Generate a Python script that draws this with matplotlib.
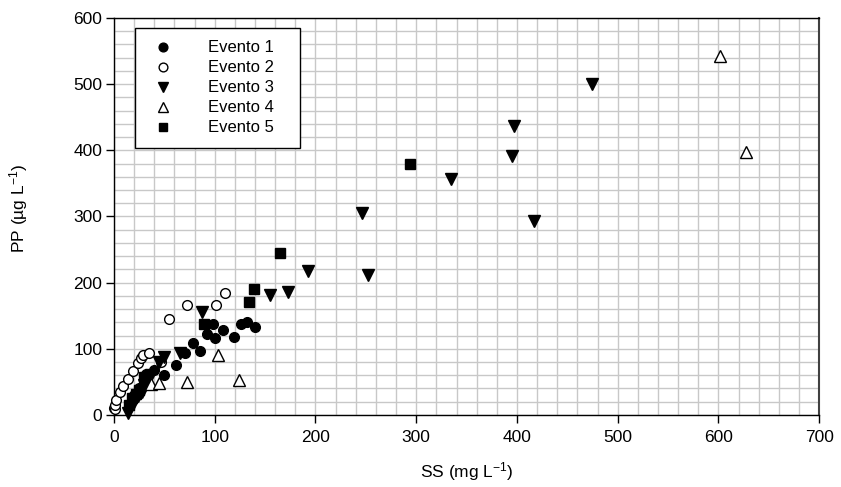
import matplotlib
matplotlib.use("Agg")
import matplotlib.pyplot as plt
from matplotlib.ticker import MultipleLocator

plt.rcParams['font.family'] = ['Liberation Sans', 'DejaVu Sans']
plt.rcParams['mathtext.default'] = 'regular'

### DATA ###
ev1_x = [20, 25, 32, 40, 50, 62, 70, 78, 85, 92, 98, 100, 108, 119, 126, 132, 140]
ev1_y = [30, 40, 62, 68, 60, 75, 93, 109, 97, 123, 137, 116, 129, 118, 138, 141, 133]

ev2_x = [0, 1, 1, 2, 6, 9, 14, 19, 24, 27, 29, 35, 47, 55, 72, 101, 110]
ev2_y = [10, 9, 15, 22, 35, 44, 54, 66, 78, 86, 91, 94, 80, 145, 166, 166, 185]

ev3_x = [14, 16, 20, 24, 28, 30, 33, 37, 45, 50, 65, 87, 155, 173, 193, 246, 252, 335, 395, 397, 417, 475]
ev3_y = [3, 10, 20, 28, 35, 45, 55, 60, 80, 87, 94, 156, 181, 186, 218, 306, 211, 356, 392, 437, 293, 501]

ev4_x = [37, 45, 72, 103, 124, 602, 627]
ev4_y = [46, 48, 50, 91, 53, 542, 398]

ev5_x = [15, 18, 22, 25, 30, 89, 134, 139, 165, 294]
ev5_y = [15, 25, 32, 38, 58, 138, 170, 190, 245, 380]

labels = ["Evento 1", "Evento 2", "Evento 3", "Evento 4", "Evento 5"]


### FIGURE ###
fig = plt.figure(figsize=(8.41, 4.87), dpi=100)
ax = fig.add_axes([0.1356, 0.148, 0.8384, 0.815])

ax.plot(ev1_x, ev1_y, 'o', color='black', markersize=7, label=labels[0], clip_on=False, zorder=3)
ax.plot(ev2_x, ev2_y, 'o', markerfacecolor='white', markeredgecolor='black', markersize=7,
        markeredgewidth=1, label=labels[1], clip_on=False, zorder=3)
ax.plot(ev3_x, ev3_y, 'v', color='black', markersize=8, label=labels[2], clip_on=False, zorder=3)
ax.plot(ev4_x, ev4_y, '^', markerfacecolor='white', markeredgecolor='black', markersize=8,
        markeredgewidth=1, label=labels[3], clip_on=False, zorder=3)
ax.plot(ev5_x, ev5_y, 's', color='black', markersize=6.5, label=labels[4], clip_on=False, zorder=3)

ax.set_xlim(0, 700)
ax.set_ylim(0, 600)
ax.xaxis.set_major_locator(MultipleLocator(100))
ax.yaxis.set_major_locator(MultipleLocator(100))
ax.xaxis.set_minor_locator(MultipleLocator(20))
ax.yaxis.set_minor_locator(MultipleLocator(20))
ax.grid(True, which='both', color='#c8c8c8', linewidth=1)
ax.set_axisbelow(True)
ax.tick_params(which='minor', length=0)
ax.tick_params(which='major', direction='out', length=6, labelsize=12.5, width=1, pad=5)
ax.tick_params(axis='y', pad=2.5)

for s in ax.spines.values():
    s.set_linewidth(1)
ax.spines['right'].set_color('#404040')
ax.spines['right'].set_linewidth(1.5)

ax.set_xlabel("SS (mg L$^{-1}$)", fontsize=12.5)
ax.set_ylabel("PP (\u00b5g L$^{-1}$)", fontsize=12.5)
ax.xaxis.set_label_coords(0.5, -0.115)
ax.yaxis.set_label_coords(-0.119, 0.52)

leg = ax.legend(loc='upper left', bbox_to_anchor=(0.0298, 0.975, 0.234, 0), mode='expand',
                fontsize=12, frameon=True, fancybox=False, framealpha=1, edgecolor='black',
                labelspacing=0.3, handletextpad=1.7, borderpad=0.75, borderaxespad=0,
                handlelength=1.9, markerscale=0.9)
leg.get_frame().set_linewidth(1)

fig.savefig("out.png", dpi=100)
